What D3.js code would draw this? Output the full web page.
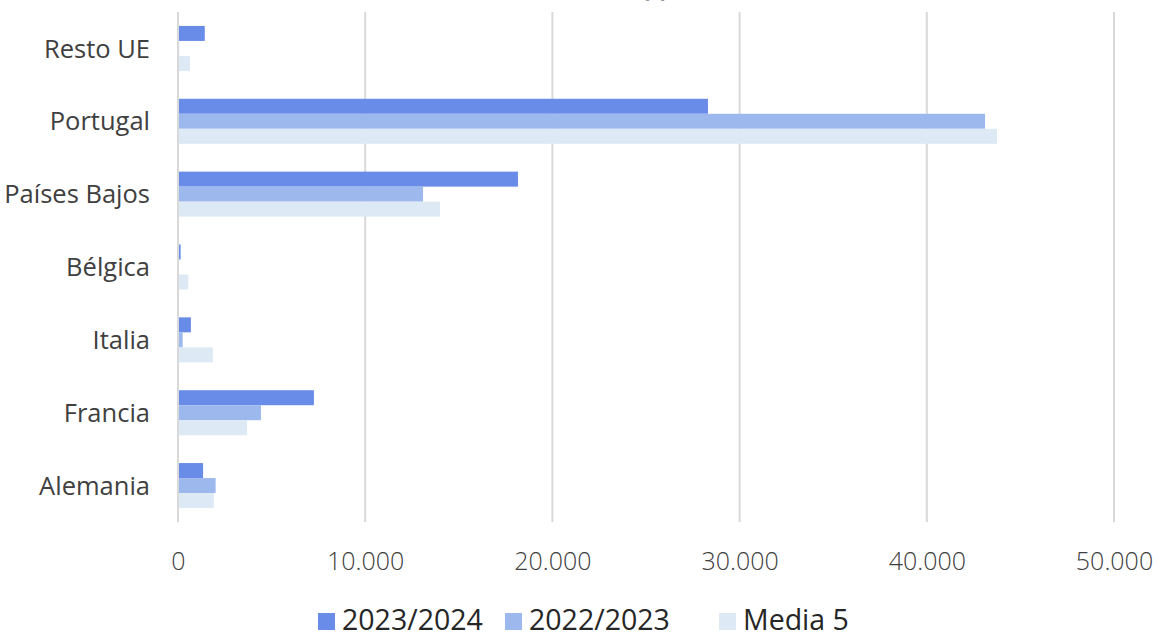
<!DOCTYPE html>
<html><head><meta charset="utf-8">
<script src="https://cdn.jsdelivr.net/npm/d3@7"></script>
<style>
html,body{margin:0;padding:0;background:#fff;}
svg text{font-family:"Open Sans","Segoe UI",sans-serif;}
</style></head>
<body>
<svg id="c" width="1158" height="634"></svg>
<script>
const categories = ["Resto UE","Portugal","Países Bajos","Bélgica","Italia","Francia","Alemania"];
const seriesNames = ["2023/2024","2022/2023","Media 5"];
const s2023 = [1430, 28310, 18160, 140, 690, 7260, 1340];
const s2022 = [60, 43110, 13090, 0, 250, 4430, 2010];
const sMedia = [640, 43750, 14000, 550, 1860, 3690, 1910];
const tickValues = [0,10000,20000,30000,40000,50000];
const tickLabels = ["0","10.000","20.000","30.000","40.000","50.000"];
const colors = ["#6a8ce9","#9db8ec","#dde9f5"];
const title = "(t)";

(function(){
const svg = d3.select("#c");
const pL = 178, pR = 1114, pT = 12, pB = 522;
const x = d3.scaleLinear().domain([0,50000]).range([pL,pR]);
const y = d3.scaleBand().domain(categories).range([pT,pB]).paddingInner(0.382).paddingOuter(0.191);
const inner = d3.scaleBand().domain(seriesNames).range([0,y.bandwidth()]);

svg.append("text").attr("x",655).attr("y",-3).attr("text-anchor","middle")
  .attr("font-size",24).attr("font-weight","bold").attr("fill","#404040").text(title);

svg.append("g").selectAll("line").data(tickValues).join("line")
  .attr("x1",d=>x(d)).attr("x2",d=>x(d)).attr("y1",pT).attr("y2",pB)
  .attr("stroke","#d9d9d9").attr("stroke-width",2);

const seriesData = [s2023,s2022,sMedia];
seriesData.forEach((vals,si)=>{
  svg.append("g").selectAll("rect").data(categories).join("rect")
    .attr("x",x(0)+1)
    .attr("y",c=>y(c)+inner(seriesNames[si]))
    .attr("height",inner.bandwidth())
    .attr("width",(c,i)=>Math.max(0,x(vals[i])-x(0)-1))
    .attr("fill",colors[si]);
});

const xAxis = d3.axisBottom(x).tickValues(tickValues).tickFormat((d,i)=>tickLabels[i]).tickSize(0).tickPadding(0);
const gx = svg.append("g").attr("transform",`translate(0,${pB})`).call(xAxis);
gx.select(".domain").remove();
gx.selectAll("text").attr("font-size",25).attr("font-weight",300).attr("fill","#404040")
  .attr("dy",null).attr("y",48).style("font-family","'Open Sans',sans-serif");

const yAxis = d3.axisLeft(y).tickSize(0).tickPadding(0);
const gy = svg.append("g").attr("transform",`translate(150,0)`).call(yAxis);
gy.select(".domain").remove();
gy.selectAll("text").attr("font-size",25.5).attr("fill","#404040").attr("dy","0.36em")
  .style("font-family","'Open Sans',sans-serif");

const legX = [318,505,719];
const lg = svg.append("g");
seriesNames.forEach((n,i)=>{
  lg.append("rect").attr("x",legX[i]).attr("y",613).attr("width",17).attr("height",17).attr("fill",colors[i]);
  lg.append("text").attr("x",legX[i]+24).attr("y",630).attr("font-size",28.5).attr("fill","#262626").text(n);
});
})();
</script>
</body></html>
